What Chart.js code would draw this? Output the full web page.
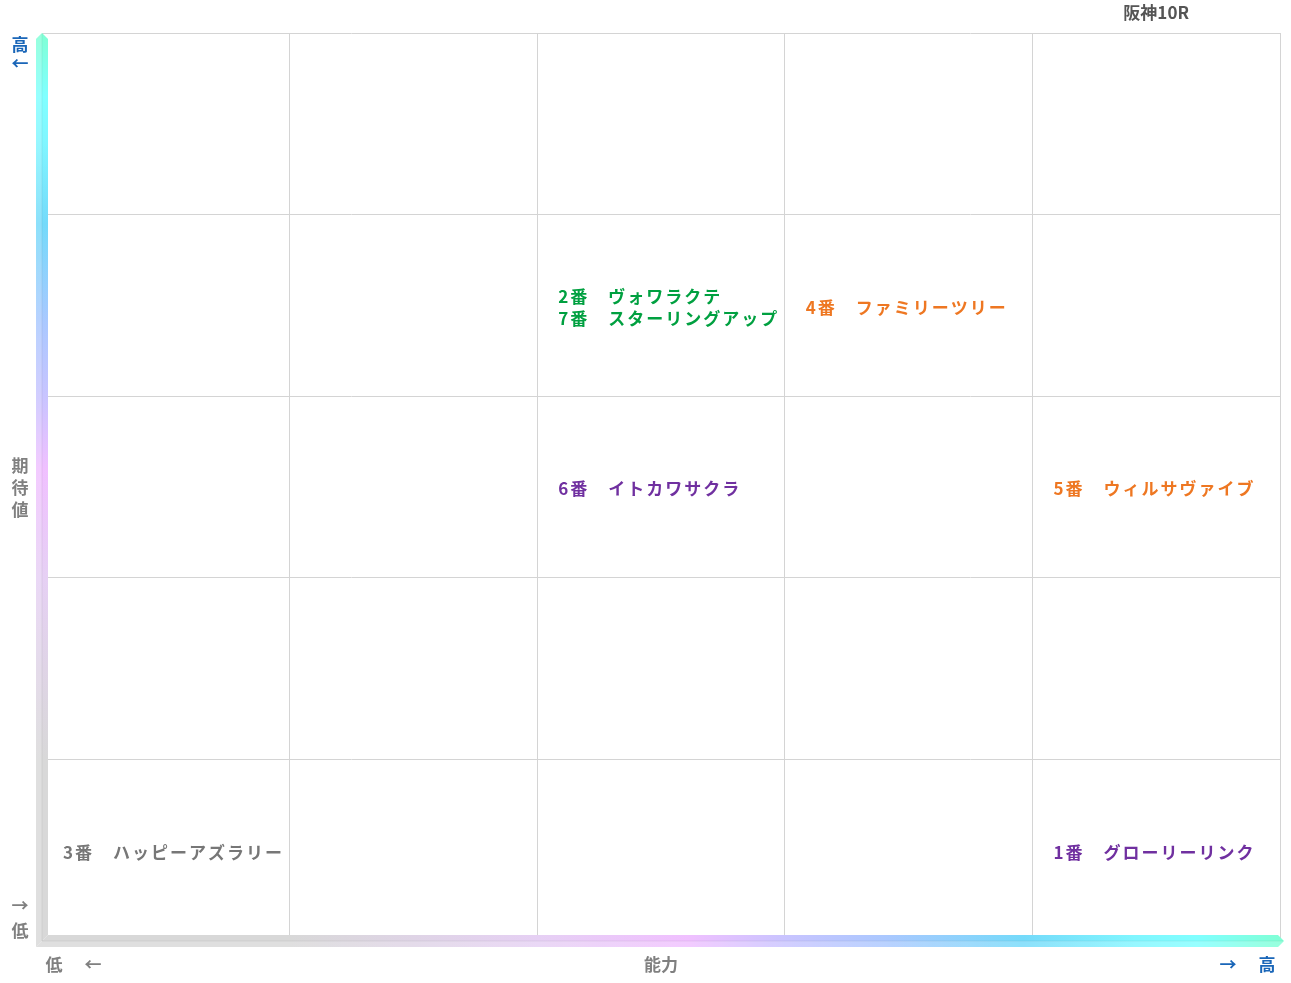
<!DOCTYPE html>
<html>
<head>
<meta charset="utf-8">
<script src="https://cdn.jsdelivr.net/npm/chart.js@4.4.1/dist/chart.umd.min.js"></script>
<style>
  html, body { margin: 0; padding: 0; background: #ffffff; }
  #wrap { width: 1291px; height: 983px; position: relative; }
</style>
</head>
<body>
<div id="wrap"><canvas id="c"></canvas></div>
<script>
// ---- data ----
const chartTitle = '阪神10R';
const xAxisLabel = '能力';
const yAxisLabel = '期待値';
const highLabel = '高';
const lowLabel = '低';
const levelCount = 5;
const horseNumbers = ['1番', '2番', '3番', '4番', '5番', '6番', '7番'];
const horseNames = ['グローリーリンク', 'ヴォワラクテ', 'ハッピーアズラリー', 'ファミリーツリー', 'ウィルサヴァイブ', 'イトカワサクラ', 'スターリングアップ'];
const abilityLevel = [5, 3, 1, 4, 5, 3, 3];      // 1 (low) .. 5 (high)
const expectLevel = [1, 4, 1, 4, 3, 3, 4];       // 1 (low) .. 5 (high)
const labelColors = ['#7030a0', '#00a040', '#777777', '#ee7722', '#ee7722', '#7030a0', '#00a040'];

const FONT = '"Noto Sans CJK JP", "Noto Sans", sans-serif';

const points = horseNumbers.map((n, i) => ({ x: abilityLevel[i] - 0.5, y: expectLevel[i] - 0.5, i }));

const gradStops = [
  [0, '#d8d8d8'], [0.2, '#d8d8d8'], [0.4, '#e6d0f4'], [0.52, '#f0c0ff'],
  [0.6, '#c8c4ff'], [0.68, '#aac8ff'], [0.79, '#74dafa'], [0.88, '#80f6ff'],
  [0.93, '#80ffff'], [1, '#80ffd4']
];

function makeGrad(ctx, x0, y0, x1, y1) {
  const g = ctx.createLinearGradient(x0, y0, x1, y1);
  gradStops.forEach(s => g.addColorStop(s[0], s[1]));
  return g;
}
function poly(ctx, pts, fill) {
  ctx.beginPath();
  ctx.moveTo(pts[0][0], pts[0][1]);
  for (let k = 1; k < pts.length; k++) ctx.lineTo(pts[k][0], pts[k][1]);
  ctx.closePath();
  ctx.fillStyle = fill;
  ctx.fill();
}

const decorPlugin = {
  id: 'decor',
  afterDraw(chart) {
    const ctx = chart.ctx;
    const a = chart.chartArea;
    const xs = chart.scales.x, ys = chart.scales.y;
    const L = a.left, B = a.bottom, T = a.top, R = a.right;
    const h = 6; // half width of axis bars
    ctx.save();

    // vertical axis bar
    const gv = makeGrad(ctx, 0, B, 0, T);
    poly(ctx, [[L - h, T + h], [L, T], [L, B], [L - h, B + h]], gv);
    poly(ctx, [[L, T], [L + h, T + h], [L + h, B - h], [L, B]], gv);
    poly(ctx, [[L - h, T + h], [L, T], [L, B], [L - h, B + h]], 'rgba(255,255,255,0.18)');
    // horizontal axis bar
    const gh = makeGrad(ctx, L, 0, R + 4, 0);
    poly(ctx, [[L, B], [L + h, B - h], [R - 2, B - h], [R + 4, B]], gh);
    poly(ctx, [[L - h, B + h], [L, B], [R + 4, B], [R - 2, B + h]], gh);
    poly(ctx, [[L - h, B + h], [L, B], [R + 4, B], [R - 2, B + h]], 'rgba(255,255,255,0.18)');
    // seams
    ctx.strokeStyle = 'rgba(0,0,0,0.06)';
    ctx.lineWidth = 1;
    ctx.beginPath();
    ctx.moveTo(L, T + 1); ctx.lineTo(L, B);
    ctx.lineTo(R + 3, B);
    ctx.stroke();

    // horse labels
    ctx.font = 'bold 17px ' + FONT;
    ctx.letterSpacing = '2px';
    ctx.textAlign = 'left';
    ctx.textBaseline = 'middle';
    const cells = {};
    points.forEach(p => {
      const key = p.x + '_' + p.y;
      (cells[key] = cells[key] || []).push(p);
    });
    Object.values(cells).forEach(list => {
      list.sort((p, q) => parseInt(horseNumbers[p.i]) - parseInt(horseNumbers[q.i]));
      const n = list.length;
      list.forEach((p, k) => {
        const px = xs.getPixelForValue(p.x - 0.5) + 21;
        const py = ys.getPixelForValue(p.y) + (k - (n - 1) / 2) * 22 + 2;
        ctx.fillStyle = labelColors[p.i];
        ctx.fillText(horseNumbers[p.i] + '　' + horseNames[p.i], px, py);
      });
    });

    // title
    ctx.letterSpacing = '0px';
    ctx.textAlign = 'center';
    ctx.fillStyle = '#555555';
    ctx.font = 'bold 17px ' + FONT;
    ctx.fillText(chartTitle, (xs.getPixelForValue(levelCount - 1) + R) / 2, T - 20);

    // axis labels
    const blue = '#1a66b8', grey = '#808080';
    ctx.font = 'bold 17px ' + FONT;
    const ax = L - 22;
    ctx.fillStyle = blue;
    ctx.fillText(highLabel, ax, T + 12);
    ctx.fillText('←', ax, T + 31);
    ctx.fillStyle = grey;
    const mid = (T + B) / 2;
    [...yAxisLabel].forEach((ch, k) => ctx.fillText(ch, ax, mid + (k - 1) * 22 + 1));
    ctx.fillText('→', ax, B - 35);
    ctx.fillText(lowLabel, ax, B - 10);
    // bottom
    const by = B + 24;
    ctx.fillText(lowLabel, L + 12, by);
    ctx.fillText('←', L + 51, by);
    ctx.fillText(xAxisLabel, (L + R) / 2, by);
    ctx.fillStyle = blue;
    ctx.fillText('→', R - 52, by);
    ctx.fillText(highLabel, R - 13, by);
    ctx.restore();
  }
};

new Chart(document.getElementById('c'), {
  type: 'scatter',
  data: {
    datasets: [{
      data: points,
      pointRadius: 0,
      pointHoverRadius: 0
    }]
  },
  options: {
    responsive: true,
    maintainAspectRatio: false,
    animation: false,
    events: [],
    layout: { padding: { left: 42, right: 11, top: 33, bottom: 42 } },
    plugins: { legend: { display: false }, tooltip: { enabled: false }, title: { display: false } },
    scales: {
      x: {
        type: 'linear', min: 0, max: levelCount,
        ticks: { stepSize: 1, display: false },
        grid: { color: '#d4d4d4', lineWidth: 1, tickLength: 0, drawTicks: false },
        border: { display: false }
      },
      y: {
        type: 'linear', min: 0, max: levelCount,
        ticks: { stepSize: 1, display: false },
        grid: { color: '#d4d4d4', lineWidth: 1, tickLength: 0, drawTicks: false },
        border: { display: false }
      }
    }
  },
  plugins: [decorPlugin]
});
</script>
</body>
</html>
